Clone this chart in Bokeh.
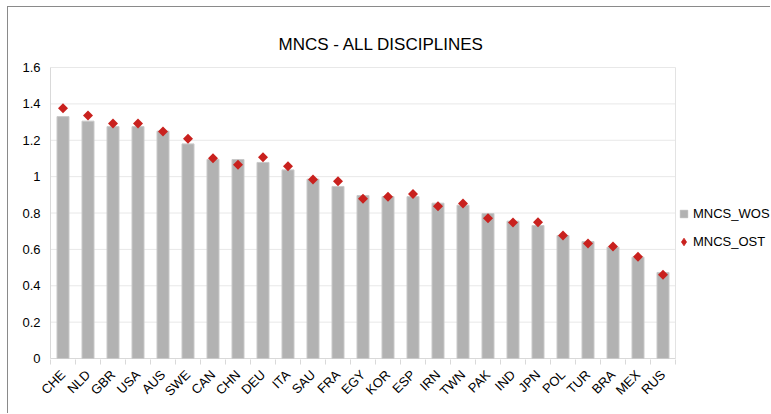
import math
from bokeh.plotting import figure
from bokeh.models import (Range1d, FixedTicker, Legend, LegendItem, Label,
                          CustomJSTickFormatter, ColumnDataSource)
from bokeh.embed import file_html
from bokeh.resources import INLINE

# ---- data ----
countries = ["CHE", "NLD", "GBR", "USA", "AUS", "SWE", "CAN", "CHN", "DEU", "ITA",
             "SAU", "FRA", "EGY", "KOR", "ESP", "IRN", "TWN", "PAK", "IND", "JPN",
             "POL", "TUR", "BRA", "MEX", "RUS"]
mncs_wos = [1.330, 1.305, 1.275, 1.275, 1.250, 1.180, 1.095, 1.094, 1.078, 1.037,
            0.986, 0.946, 0.896, 0.890, 0.890, 0.854, 0.843, 0.797, 0.755, 0.731,
            0.676, 0.643, 0.612, 0.557, 0.473]
mncs_ost = [1.376, 1.336, 1.292, 1.292, 1.248, 1.208, 1.101, 1.065, 1.107, 1.057,
            0.984, 0.975, 0.878, 0.889, 0.905, 0.837, 0.852, 0.771, 0.748, 0.749,
            0.676, 0.632, 0.616, 0.559, 0.460]
y_ticks = [0, 0.2, 0.4, 0.6, 0.8, 1.0, 1.2, 1.4, 1.6]
y_max = 1.6
title_text = "MNCS - ALL DISCIPLINES"
series_names = ["MNCS_WOS", "MNCS_OST"]

FONT = "Liberation Sans"
BAR = "#b2b2b2"
RED = "#c9211e"
LIGHT = "#d9d9d9"
GRID = "#e8e8e8"

n = len(countries)
centers = [i + 0.5 for i in range(n)]
src = ColumnDataSource(dict(x=centers, country=countries, wos=mncs_wos, ost=mncs_ost))

# plot area spans to the right edge so the legend and title can sit inside it;
# the visible chart box (0..n, 0..y_max) is drawn with its own lines
PX_X = 25.0            # pixels per category
PX_Y = 291 / y_max     # pixels per unit
p = figure(width=763, height=407,
           x_range=Range1d(-1 / PX_X, (771 - 50) / PX_X),
           y_range=Range1d(-1 / PX_Y, (358 - 7) / PX_Y),
           output_backend="svg", toolbar_location=None, title=None,
           min_border_left=41, min_border_right=0, min_border_top=0, min_border_bottom=55)
p.background_fill_color = "white"
p.border_fill_color = "white"
p.outline_line_color = None
p.styles = {"margin-left": "7px", "margin-top": "6px",
            "border-top": "1px solid #8a8a8a", "border-left": "1px solid #8a8a8a"}

# grid lines and box
p.segment(x0=0, x1=n, y0=y_ticks, y1=y_ticks, line_color=GRID, line_width=1)
p.segment(x0=[n], x1=[n], y0=[0], y1=[y_max], line_color="#e3e3e3", line_width=1)
p.segment(x0=[0, 0], x1=[0, n], y0=[0, 0], y1=[y_max, 0], line_color=LIGHT, line_width=1)

bars = p.vbar(x="x", top="wos", width=0.48, source=src, fill_color=BAR, line_color="#c9c9c9")
pts = p.scatter(x="x", y="ost", source=src, marker="square", size=7.1, angle=math.pi / 4,
                fill_color=RED, line_color=None)
# legend stand-ins (off-range, not visible in the plot)
leg_sq = p.scatter(x=[-5], y=[-5], marker="square", size=8, fill_color=BAR,
                   line_color=BAR, line_width=0.5)
leg_dm = p.scatter(x=[-5], y=[-5], marker="diamond", size=8, fill_color=RED,
                   line_color=RED, line_width=0.8)

# x axis
xa = p.xaxis[0]
xa.ticker = FixedTicker(ticks=centers, minor_ticks=list(range(n + 1)))
xa.major_label_overrides = {c: name for c, name in zip(centers, countries)}
xa.major_tick_out = 0
xa.major_tick_in = 0
xa.minor_tick_out = 5
xa.minor_tick_in = 0
xa.minor_tick_line_color = LIGHT
xa.axis_line_color = None
xa.major_label_orientation = math.pi / 4
xa.major_label_text_font = FONT
xa.major_label_text_font_size = "13px"
xa.major_label_text_color = "black"
xa.major_label_standoff = 8

# y axis
ya = p.yaxis[0]
ya.ticker = FixedTicker(ticks=y_ticks)
ya.formatter = CustomJSTickFormatter(code="return Number(tick.toFixed(2)).toString();")
ya.major_tick_out = 0
ya.major_tick_in = 0
ya.minor_tick_line_color = None
ya.axis_line_color = None
ya.major_label_text_font = FONT
ya.major_label_text_font_size = "13px"
ya.major_label_text_color = "black"
ya.major_label_standoff = 9

p.xgrid.grid_line_color = None
p.ygrid.grid_line_color = None

# title (screen units relative to the plot area)
p.add_layout(Label(x=332, y=314.7, x_units="screen", y_units="screen", text=title_text,
                   text_align="center", text_baseline="alphabetic", text_font=FONT,
                   text_font_size="17px", text_color="black"))

# legend
leg = Legend(items=[LegendItem(label=series_names[0], renderers=[leg_sq]),
                    LegendItem(label=series_names[1], renderers=[leg_dm])],
             location=(625, 108.5), glyph_width=19, glyph_height=19, label_height=15,
             spacing=9, label_standoff=-2, padding=0, margin=0, border_line_color=None,
             background_fill_alpha=0, label_text_font=FONT, label_text_font_size="13px",
             label_text_color="black")
p.add_layout(leg)

open("out.html", "w").write(file_html(p, INLINE))
